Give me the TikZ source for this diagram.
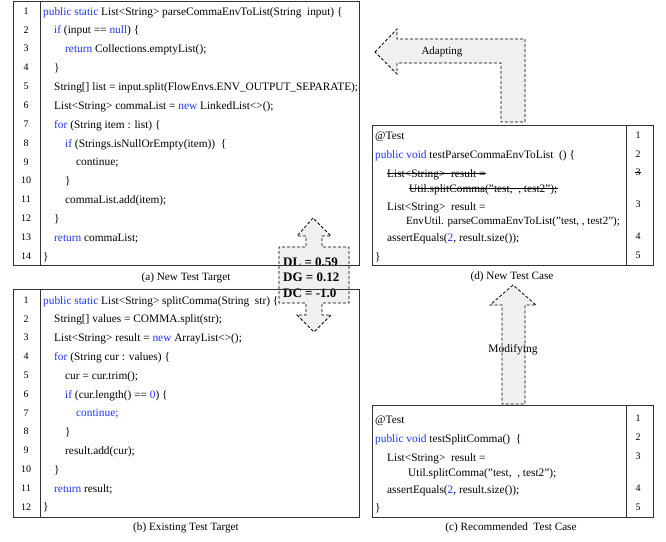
\documentclass[tikz,border=0pt]{standalone}
\usepackage{fontspec}
\setmainfont{Liberation Serif}
\definecolor{kwblue}{RGB}{30,50,255}
\definecolor{arrowfill}{RGB}{240,240,240}
\newcommand{\kw}[1]{\textcolor{kwblue}{#1}}
\newcommand{\dq}{\symbol{34}}
\begin{document}
\begin{tikzpicture}[x=1pt,y=-1pt,
  frame/.style={draw=black!80,line width=1pt},
  code/.style={anchor=base west,inner sep=0pt,font=\fontsize{11.35}{13}\selectfont},
  lnum/.style={anchor=center,inner sep=0pt,font=\fontsize{10}{12}\selectfont},
  caption/.style={anchor=center,inner sep=0pt,font=\fontsize{11.2}{13}\selectfont},
  blockarrow/.style={draw=black,fill=arrowfill,line width=0.8pt,dash pattern=on 3pt off 2pt},
  arrowlabel/.style={anchor=center,inner sep=0pt,font=\fontsize{11}{13}\selectfont},
  metric/.style={anchor=west,inner sep=0pt,font=\fontsize{13}{15}\selectfont\bfseries},
  strike/.style={draw=black,line width=0.7pt}]
\useasboundingbox (0,0) rectangle (666,541);

% ---- block arrows ----
\draw[blockarrow] (313,218) -- (297,236) -- (306,236) -- (306,247) -- (279,247)
  -- (279,303) -- (306,303) -- (306,315) -- (297,315) -- (314,332) -- (331,315)
  -- (322,315) -- (322,303) -- (349,303) -- (349,247) -- (322,247) -- (322,236)
  -- (331,236) -- cycle;
\node[metric] (dl) at (283,262) {DL = 0.59};
\node[metric] (dg) at (283,277) {DG = 0.12};
\node[metric] (dc) at (283,293) {DC = -1.0};

\draw[blockarrow] (375,52) -- (397,29) -- (397,39) -- (525,39) -- (525,122)
  -- (501,122) -- (501,63) -- (397,63) -- (397,74) -- cycle;
\node[arrowlabel] (adapt) at (442,52) {Adapting};

\draw[blockarrow] (513,285) -- (490,305) -- (502,305) -- (502,404) -- (525,404)
  -- (525,305) -- (536,305) -- cycle;
\node[arrowlabel,font=\fontsize{11.5}{13}\selectfont] (modify) at (513,350) {Modifying};

% ---- (a) new test target ----
\draw[frame] (13,1) rectangle (359,265);
\draw[frame] (40,1) -- (40,265);
\node[lnum] (a1n) at (26,11) {1};
\node[lnum] (a2n) at (26,29.9) {2};
\node[lnum] (a3n) at (26,48.7) {3};
\node[lnum] (a4n) at (26,67.6) {4};
\node[lnum] (a5n) at (26,86.4) {5};
\node[lnum] (a6n) at (26,105.3) {6};
\node[lnum] (a7n) at (26,124.1) {7};
\node[lnum] (a8n) at (26,143) {8};
\node[lnum] (a9n) at (26,161.8) {9};
\node[lnum] (a10n) at (26,180.7) {10};
\node[lnum] (a11n) at (26,199.5) {11};
\node[lnum] (a12n) at (26,218.4) {12};
\node[lnum] (a13n) at (26,237.2) {13};
\node[lnum] (a14n) at (26,256.1) {14};
\node[code] (a1) at (43,15) {\kw{public static} List<String> parseCommaEnvToList(String\ \ input) \{};
\node[code] (a2) at (54,33.9) {\kw{if} (input == \kw{null}) \{};
\node[code] (a3) at (65,52.7) {\kw{return} Collections.emptyList();};
\node[code] (a4) at (54,71.6) {\}};
\node[code] (a5) at (54,90.4) {String[] list = input.split(FlowEnvs.ENV\_OUTPUT\_SEPARATE);};
\node[code] (a6) at (54,109.3) {List<String> commaList = \kw{new} LinkedList<>();};
\node[code] (a7) at (54,128.1) {\kw{for} (String item\ : list)\ \{};
\node[code] (a8) at (65,147) {\kw{if} (Strings.isNullOrEmpty(item))\ \ \{};
\node[code] (a9) at (76,165.8) {continue;};
\node[code] (a10) at (65,184.7) {\}};
\node[code] (a11) at (65,203.5) {commaList.add(item);};
\node[code] (a12) at (54,222.4) {\}};
\node[code] (a13) at (54,241.2) {\kw{return} commaList;};
\node[code] (a14) at (43,260.1) {\}};
\node[caption] (capa) at (186,278) {(a) New Test Target};

% ---- (b) existing test target ----
\draw[frame] (13,289) rectangle (359,517);
\draw[frame] (40,289) -- (40,517);
\node[lnum] (b1n) at (26,300) {1};
\node[lnum] (b2n) at (26,318.8) {2};
\node[lnum] (b3n) at (26,337.6) {3};
\node[lnum] (b4n) at (26,356.4) {4};
\node[lnum] (b5n) at (26,375.2) {5};
\node[lnum] (b6n) at (26,394) {6};
\node[lnum] (b7n) at (26,412.8) {7};
\node[lnum] (b8n) at (26,431.6) {8};
\node[lnum] (b9n) at (26,450.4) {9};
\node[lnum] (b10n) at (26,469.2) {10};
\node[lnum] (b11n) at (26,488) {11};
\node[lnum] (b12n) at (26,506.8) {12};
\node[code] (b1) at (43,304) {\kw{public static} List<String> splitComma(String\ \ str) \{};
\node[code] (b2) at (54,322.8) {String[] values = COMMA.split(str);};
\node[code] (b3) at (54,341.6) {List<String> result = \kw{new} ArrayList<>();};
\node[code] (b4) at (54,360.4) {\kw{for} (String cur : values)\ \{};
\node[code] (b5) at (65,379.2) {cur = cur.trim();};
\node[code] (b6) at (65,398) {\kw{if} (cur.length()\ == \kw{0}) \{};
\node[code] (b7) at (76,416.8) {\kw{continue;}};
\node[code] (b8) at (65,435.6) {\}};
\node[code] (b9) at (65,454.4) {result.add(cur);};
\node[code] (b10) at (54,473.2) {\}};
\node[code] (b11) at (54,492) {\kw{return}\ result;};
\node[code] (b12) at (43,510.8) {\}};
\node[caption] (capb) at (186,528) {(b) Existing Test Target};

% ---- (d) new test case ----
\draw[frame] (372,125) rectangle (653,265);
\draw[frame] (626,125) -- (626,265);
\node[code] (d1) at (375,139) {@Test};
\node[code] (d2) at (375,158) {\kw{public void} testParseCommaEnvToList\ \ () \{};
\node[code] (d3) at (387,177) {List<String>\ \ result =};
\node[code] (d4) at (409,192) {Util.splitComma(\dq test,\ \ , test2\dq);};
\node[code] (d5) at (387,210) {List<String>\ \ result =};
\node[code,font=\fontsize{11.05}{13}\selectfont] (d6) at (406,224) {EnvUtil. parseCommaEnvToList(\dq test, , test2\dq);};
\node[code] (d7) at (387,241) {assertEquals(\kw{2}, result.size());};
\node[code] (d8) at (375,260) {\}};
\node[lnum] (d1n) at (638,135) {1};
\node[lnum] (d2n) at (638,154) {2};
\node[lnum] (d3n) at (638,172) {3};
\node[lnum] (d4n) at (638,204) {3};
\node[lnum] (d5n) at (638,236) {4};
\node[lnum] (d6n) at (638,255) {5};
% struck-out old statement
\draw[strike] ([yshift=3.3pt]d3.base west) -- ([yshift=3.3pt]d3.base east);
\draw[strike] ([yshift=3.3pt]d4.base west) -- ([yshift=3.3pt]d4.base east);
\draw[strike] ([xshift=-0.5pt]d3n.west) -- ([xshift=0.5pt]d3n.east);
\node[caption] (capd) at (512,277) {(d) New Test Case};

% ---- (c) recommended test case ----
\draw[frame] (372,405) rectangle (653,517);
\draw[frame] (626,405) -- (626,517);
\node[code] (c1) at (375,423) {@Test};
\node[code] (c2) at (375,442) {\kw{public void} testSplitComma()\ \ \{};
\node[code] (c3) at (387,461) {List<String>\ \ result =};
\node[code] (c4) at (408,476) {Util.splitComma(\dq test,\ \ , test2\dq);};
\node[code] (c5) at (387,493) {assertEquals(\kw{2}, result.size());};
\node[code] (c6) at (375,511) {\}};
\node[lnum] (c1n) at (638,418) {1};
\node[lnum] (c2n) at (638,437) {2};
\node[lnum] (c3n) at (638,456) {3};
\node[lnum] (c4n) at (638,488) {4};
\node[lnum] (c5n) at (638,507) {5};
\node[caption] (capc) at (511,528) {(c) Recommended\ \ Test Case};
\end{tikzpicture}
\end{document}
